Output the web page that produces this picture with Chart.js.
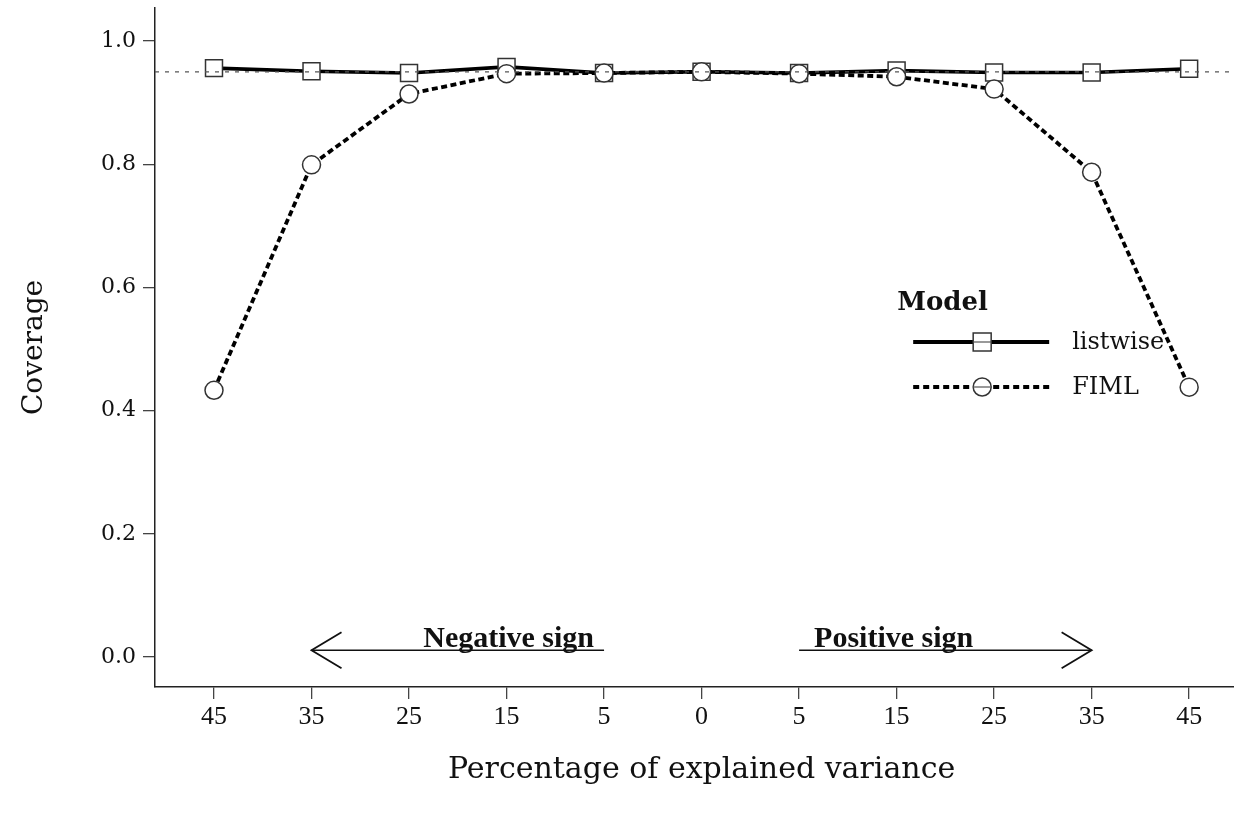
<!DOCTYPE html>
<html>
<head>
<meta charset="utf-8">
<script src="https://cdn.jsdelivr.net/npm/chart.js@4.4.1/dist/chart.umd.min.js"></script>
<style>
  html, body { margin: 0; padding: 0; background: #fff; }
  #wrap { width: 1234px; height: 817px; }
</style>
</head>
<body>
<div id="wrap"><canvas id="chart" width="1234" height="817"></canvas></div>
<script>
// percentage of explained variance (negative side, then positive side)
const xLabels = ["45", "35", "25", "15", "5", "0", "5", "15", "25", "35", "45"];
const listwise = [0.956, 0.951, 0.948, 0.958, 0.948, 0.950, 0.948, 0.952, 0.949, 0.949, 0.955];
const fiml = [0.433, 0.799, 0.914, 0.947, 0.948, 0.950, 0.947, 0.942, 0.922, 0.787, 0.438];
const yTicks = [0.0, 0.2, 0.4, 0.6, 0.8, 1.0];
const nominal = 0.95;
const xTitle = "Percentage of explained variance";

// arrows under the curves: [from index, to index, text]
const signArrows = [
  { from: 4, to: 1, y: 0.011, text: "Negative sign" },
  { from: 6, to: 9, y: 0.011, text: "Positive sign" }
];

const legendItems = [
  { label: "listwise", dash: [], marker: "rect" },
  { label: "FIML", dash: [6, 4], marker: "circle" }
];

const toPts = arr => arr.map((v, i) => ({ x: i, y: v }));

// reference line, arrows, legend and x title drawn on top of the datasets
const extras = {
  id: "extras",
  afterDatasetsDraw(chart) {
    const { ctx, chartArea, scales: { x, y } } = chart;
    ctx.save();

    // 0.95 dashed line
    ctx.strokeStyle = "#555";
    ctx.lineWidth = 1.2;
    ctx.setLineDash([4, 6]);
    ctx.beginPath();
    ctx.moveTo(chartArea.left, y.getPixelForValue(nominal));
    ctx.lineTo(chartArea.right, y.getPixelForValue(nominal));
    ctx.stroke();
    ctx.setLineDash([]);

    // sign arrows
    ctx.strokeStyle = "#111";
    ctx.fillStyle = "#111";
    signArrows.forEach(a => {
      const x0 = x.getPixelForValue(a.from);
      const x1 = x.getPixelForValue(a.to);
      const py = y.getPixelForValue(a.y);
      ctx.lineWidth = 1.3;
      ctx.beginPath();
      ctx.moveTo(x0, py);
      ctx.lineTo(x1, py);
      ctx.stroke();
      const d = x1 > x0 ? -1 : 1;
      ctx.lineWidth = 1.8;
      ctx.beginPath();
      ctx.moveTo(x1 + d * 30, py - 18);
      ctx.lineTo(x1, py);
      ctx.lineTo(x1 + d * 30, py + 18);
      ctx.stroke();

      ctx.font = "bold 30px 'Liberation Serif'";
      ctx.textBaseline = "alphabetic";
      if (x1 < x0) {
        ctx.textAlign = "right";
        ctx.fillText(a.text, x0 - 10, py - 3, 175);
      } else {
        ctx.textAlign = "left";
        ctx.fillText(a.text, x0 + 15, py - 3, 162);
      }
    });

    // legend
    const lx = x.getPixelForValue(7.17);
    ctx.textAlign = "left";
    ctx.textBaseline = "alphabetic";
    ctx.font = "bold 26px 'DejaVu Serif'";
    ctx.fillStyle = "#111";
    ctx.fillText("Model", lx - 16, 310);
    legendItems.forEach((it, i) => {
      const ly = 342 + i * 45;
      ctx.strokeStyle = "#000";
      ctx.lineWidth = 3.8;
      ctx.setLineDash(it.dash);
      ctx.beginPath();
      ctx.moveTo(lx, ly);
      ctx.lineTo(lx + 136, ly);
      ctx.stroke();
      ctx.setLineDash([]);
      const mx = lx + 69;
      ctx.fillStyle = "#fff";
      ctx.strokeStyle = "#333";
      ctx.lineWidth = 1.5;
      ctx.beginPath();
      if (it.marker === "rect") ctx.rect(mx - 9, ly - 9, 18, 18);
      else ctx.arc(mx, ly, 9, 0, Math.PI * 2);
      ctx.fill();
      ctx.stroke();
      ctx.strokeStyle = "#555";
      ctx.lineWidth = 1.2;
      ctx.beginPath();
      ctx.moveTo(mx - 9, ly);
      ctx.lineTo(mx + 9, ly);
      ctx.stroke();
      ctx.fillStyle = "#111";
      ctx.font = "24px 'DejaVu Serif'";
      ctx.textBaseline = "middle";
      ctx.fillText(it.label, lx + 159, ly + 1);
      ctx.textBaseline = "alphabetic";
    });

    // x axis title, centred on the middle category
    ctx.font = "30px 'DejaVu Serif'";
    ctx.fillStyle = "#111";
    ctx.textAlign = "center";
    ctx.textBaseline = "middle";
    ctx.fillText(xTitle, x.getPixelForValue(5), 770);

    ctx.restore();
  }
};

new Chart(document.getElementById("chart"), {
  type: "line",
  data: {
    datasets: [
      {
        label: "listwise",
        data: toPts(listwise),
        borderColor: "#000",
        borderWidth: 3.6,
        tension: 0,
        pointStyle: "rect",
        pointRadius: 12,
        pointBackgroundColor: "#fff",
        pointBorderColor: "#333",
        pointBorderWidth: 1.5,
        order: 2
      },
      {
        label: "FIML",
        data: toPts(fiml),
        borderColor: "#000",
        borderWidth: 3.8,
        borderDash: [6, 3.5],
        tension: 0,
        pointStyle: "circle",
        pointRadius: 9,
        pointBackgroundColor: "#fff",
        pointBorderColor: "#333",
        pointBorderWidth: 1.5,
        order: 1
      }
    ]
  },
  options: {
    responsive: false,
    animation: false,
    layout: { padding: { top: 8, left: 0, right: 0, bottom: 0 }, autoPadding: false },
    plugins: {
      legend: { display: false },
      tooltip: { enabled: false }
    },
    scales: {
      x: {
        type: "linear",
        min: -0.605,
        max: 10.46,
        afterBuildTicks: s => { s.ticks = xLabels.map((_, i) => ({ value: i })); },
        afterFit: s => { s.height = 130; s.paddingLeft = 0; s.paddingRight = 0; },
        ticks: {
          callback: v => xLabels[v],
          font: { family: "'Liberation Serif'", size: 26 },
          color: "#111",
          padding: 3,
          maxRotation: 0
        },
        grid: { display: true, drawOnChartArea: false, drawTicks: true, tickLength: 12, color: "#444", lineWidth: 1.3 },
        border: { display: true, color: "#222", width: 1.5 }
      },
      y: {
        min: -0.0487,
        max: 1.0536,
        afterBuildTicks: s => { s.ticks = yTicks.map(v => ({ value: v })); },
        afterFit: s => { s.width = 155; s.paddingTop = 0; s.paddingBottom = 0; },
        ticks: {
          callback: v => v.toFixed(1),
          font: { family: "'DejaVu Serif'", size: 22 },
          color: "#111",
          padding: 7
        },
        grid: { display: true, drawOnChartArea: false, drawTicks: true, tickLength: 12, color: "#444", lineWidth: 1.3 },
        border: { display: true, color: "#222", width: 1.5 },
        title: {
          display: true,
          text: "Coverage",
          font: { family: "'DejaVu Serif'", size: 28 },
          color: "#111",
          padding: { top: 18, bottom: 0 }
        }
      }
    }
  },
  plugins: [extras]
});
</script>
</body>
</html>
